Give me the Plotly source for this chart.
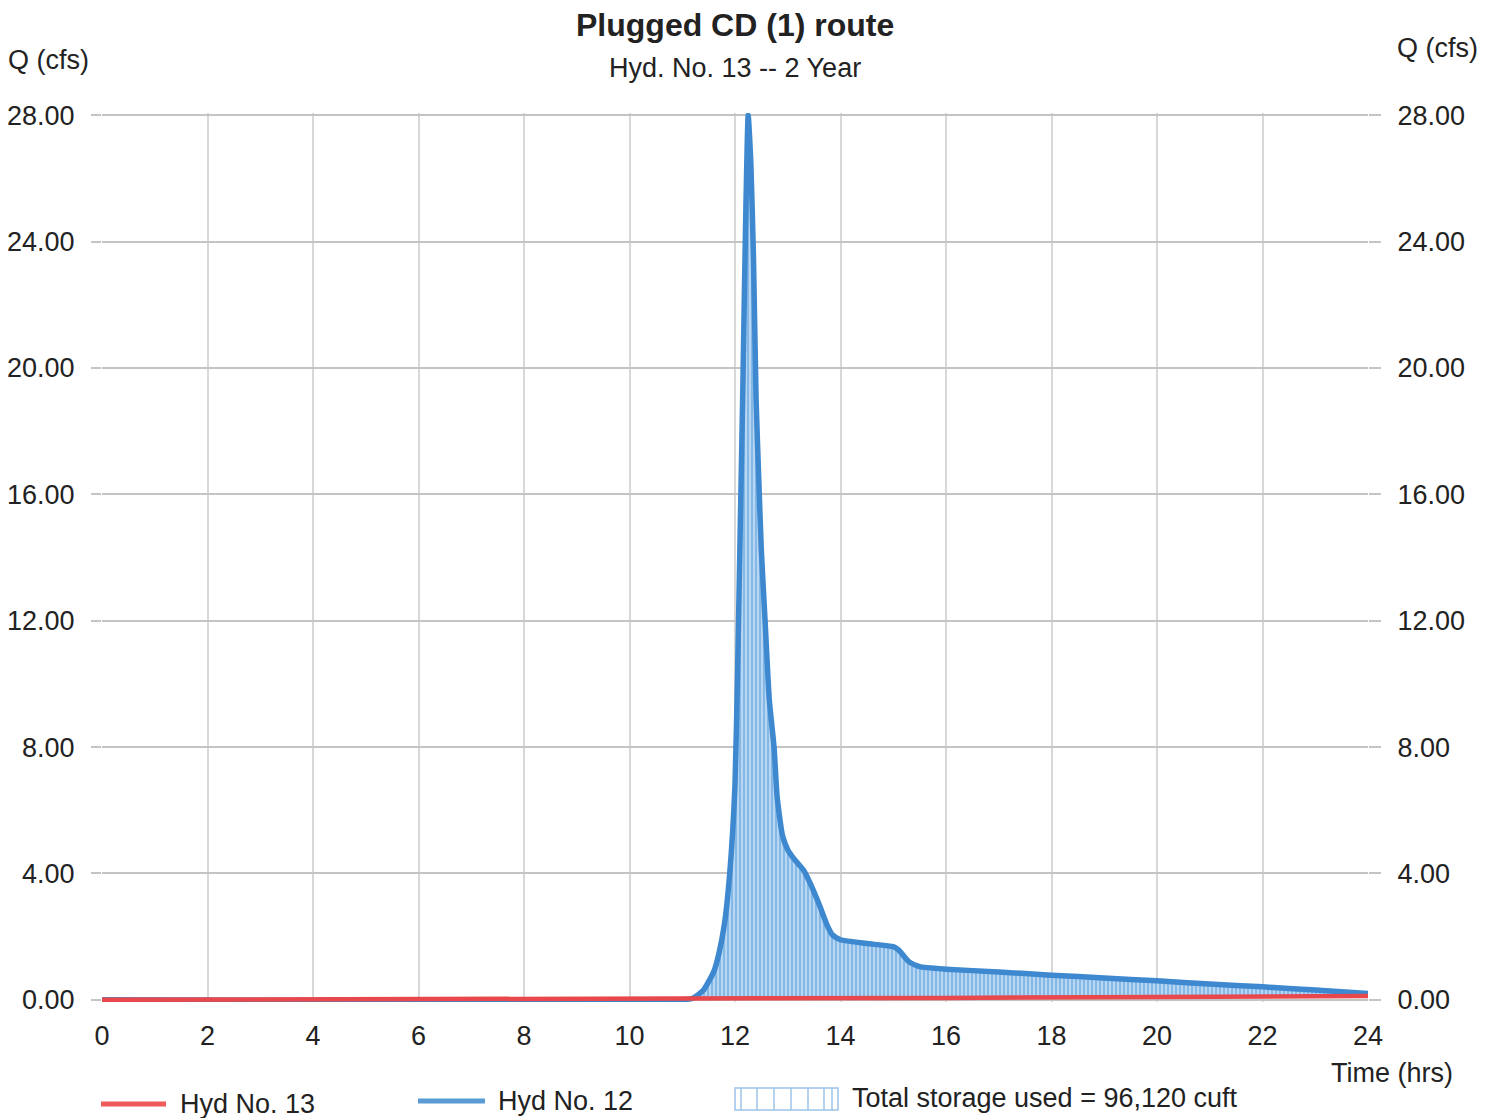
import plotly.graph_objects as go

# Hydrograph data (time in hours, flow in cfs)
inflow_time = [0.0, 11.0, 11.2, 11.4, 11.6, 11.7, 11.8, 11.9, 12.0, 12.05, 12.1, 12.15,
               12.2, 12.25, 12.3, 12.35, 12.4, 12.45, 12.5, 12.57, 12.65, 12.74, 12.8,
               12.9, 13.0, 13.1, 13.3, 13.45, 13.6, 13.75, 13.85, 14.0, 14.5, 15.0,
               15.1, 15.3, 15.5, 16.0, 17.0, 18.0, 19.0, 20.0, 21.0, 22.0, 23.0, 24.0]
inflow_q = [0.0, 0.0, 0.05, 0.3, 0.9, 1.5, 2.4, 4.0, 6.8, 10.5, 15.0, 19.5,
            24.5, 28.0, 26.5, 23.5, 19.0, 16.5, 14.2, 12.0, 9.5, 8.0, 6.4,
            5.2, 4.75, 4.5, 4.1, 3.6, 3.0, 2.35, 2.05, 1.9, 1.78, 1.68,
            1.58, 1.2, 1.05, 0.97, 0.88, 0.78, 0.69, 0.6, 0.5, 0.41, 0.31, 0.2]

outflow_time = [0.0, 6.0, 12.0, 16.0, 20.0, 24.0]
outflow_q = [0.0, 0.01, 0.03, 0.06, 0.09, 0.12]

x_ticks = list(range(0, 25, 2))
y_ticks = [0, 4, 8, 12, 16, 20, 24, 28]
y_tick_text = [f"{v:.2f}" for v in y_ticks]

title_text = "Plugged CD (1) route"
subtitle_text = "Hyd. No. 13 -- 2 Year"
storage_text = "Total storage used = 96,120 cuft"

RED = "#e8484b"
BLUE = "#3d88cf"
FONT = "Liberation Sans"
TEXT = "#222222"
HGRID = "#c4c4c4"
VGRID = "#d8d8d8"

W, H = 1497, 1118
L, R, T, B = 102, 129, 113, 116
PW, PH = W - L - R, H - T - B


def px(x):
    return (x - L) / PW


def py(y):
    return (H - B - y) / PH


smooth_line = dict(shape="spline", smoothing=0.5)

fig = go.Figure()

# baseline for the storage fill (outflow curve)
fig.add_trace(go.Scatter(x=outflow_time, y=outflow_q, mode="lines",
                         line=dict(width=0, color=RED), showlegend=False,
                         hoverinfo="skip"))
# storage between inflow and outflow
fig.add_trace(go.Scatter(x=inflow_time, y=inflow_q, mode="lines",
                         line=dict(width=0, color=BLUE, **smooth_line), fill="tonexty",
                         fillcolor="#b6d6f4",
                         fillpattern=dict(shape="|", fgcolor="#5599d8",
                                          bgcolor="#b6d6f4", size=4,
                                          solidity=0.5),
                         showlegend=False, hoverinfo="skip"))
# inflow hydrograph
fig.add_trace(go.Scatter(x=inflow_time, y=inflow_q, mode="lines",
                         line=dict(width=5.5, color=BLUE, **smooth_line),
                         name="Hyd No. 12", showlegend=False))
# outflow hydrograph
fig.add_trace(go.Scatter(x=outflow_time, y=outflow_q, mode="lines",
                         line=dict(width=4.5, color=RED), name="Hyd No. 13",
                         showlegend=False))
# mirror axis on the right
fig.add_trace(go.Scatter(x=[0], y=[0], yaxis="y2", mode="lines",
                         line=dict(width=0), showlegend=False, hoverinfo="skip"))

axis_font = dict(family=FONT, size=27, color=TEXT)
fig.update_layout(
    width=W, height=H,
    margin=dict(l=L, r=R, t=T, b=B, autoexpand=False),
    paper_bgcolor="white", plot_bgcolor="white",
    showlegend=False,
    xaxis=dict(range=[0, 24], tickvals=x_ticks, ticktext=[str(v) for v in x_ticks],
               showgrid=True, gridcolor=VGRID, gridwidth=1.5, zeroline=False,
               showline=False, ticks="", tickfont=axis_font, ticklabelstandoff=15,
               automargin=False),
    yaxis=dict(range=[-0.07, 28.07], tickvals=y_ticks, ticktext=y_tick_text,
               showgrid=True, gridcolor=HGRID, gridwidth=1.5, zeroline=False,
               showline=False, ticks="outside", ticklen=10, tickcolor=HGRID,
               tickwidth=1.5, tickfont=axis_font, ticklabelstandoff=11,
               automargin=False),
    yaxis2=dict(range=[-0.07, 28.07], tickvals=y_ticks, ticktext=y_tick_text,
                overlaying="y", side="right", showgrid=False, zeroline=False,
                showline=False, ticks="outside", ticklen=12, tickcolor=HGRID,
                tickwidth=1.5, tickfont=axis_font, ticklabelstandoff=11,
                automargin=False),
)

ann = []


def text(x, y, s, size=27, xanchor="left", bold=False):
    ann.append(dict(x=px(x), y=py(y), xref="paper", yref="paper", text=s,
                    showarrow=False, xanchor=xanchor, yanchor="middle",
                    font=dict(family=FONT, size=size, color=TEXT,
                              weight="bold" if bold else "normal")))


text(735, 25, title_text, size=32, xanchor="center", bold=True)
text(735, 68, subtitle_text, size=27, xanchor="center")
text(6, 60, "Q (cfs)")
text(1395, 48, "Q (cfs)")
text(1455, 1073, "Time (hrs)", xanchor="right")
text(178, 1104, "Hyd No. 13")
text(496, 1101, "Hyd No. 12")
text(850, 1098, storage_text)

shapes = [
    dict(type="line", xref="paper", yref="paper", x0=px(101), x1=px(166),
         y0=py(1104), y1=py(1104), line=dict(color="#f05a5a", width=5)),
    dict(type="line", xref="paper", yref="paper", x0=px(418), x1=px(485),
         y0=py(1101), y1=py(1101), line=dict(color="#5b9bd5", width=5)),
    dict(type="rect", xref="paper", yref="paper", x0=px(735), x1=px(838),
         y0=py(1110), y1=py(1088), line=dict(color="#9cc3ea", width=1.5)),
]
for xv in [741, 757, 774, 791, 808, 824, 832]:
    shapes.append(dict(type="line", xref="paper", yref="paper", x0=px(xv), x1=px(xv),
                       y0=py(1110), y1=py(1088), line=dict(color="#9cc3ea", width=1.5)))

fig.update_layout(annotations=ann, shapes=shapes)

fig.write_html("out.html")
